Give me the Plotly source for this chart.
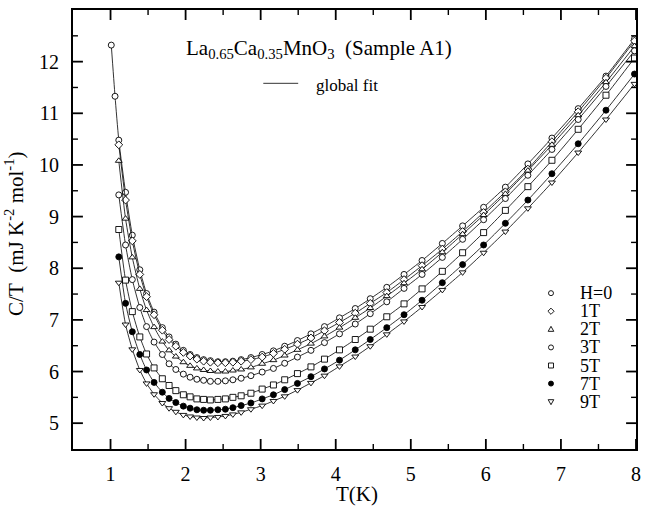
import plotly.graph_objects as go

T = [1.01, 1.06, 1.11, 1.20, 1.29, 1.39, 1.48, 1.58, 1.69, 1.78,
     1.87, 1.97, 2.06, 2.15, 2.24, 2.33, 2.43, 2.53, 2.63, 2.74,
     2.87, 3.02, 3.17, 3.32, 3.49, 3.67, 3.85, 4.05, 4.26, 4.46,
     4.68, 4.91, 5.15, 5.42, 5.69, 5.97, 6.26, 6.56, 6.88, 7.23,
     7.60, 7.98]

field_names = ["H=0", "1T", "2T", "3T", "5T", "7T", "9T"]
first_index = [0, 2, 2, 2, 2, 2, 2]

CT_H0 = [12.32, 11.33, 10.48, 9.47, 8.64, 7.97, 7.51, 7.15, 6.85, 6.67,
         6.53, 6.41, 6.33, 6.27, 6.23, 6.21, 6.19, 6.19, 6.20, 6.23,
         6.27, 6.33, 6.40, 6.49, 6.60, 6.73, 6.87, 7.04, 7.22, 7.41,
         7.63, 7.88, 8.15, 8.48, 8.82, 9.18, 9.57, 10.02, 10.52, 11.09,
         11.72, 12.44]
CT_1T = [10.39, 9.32, 8.53, 7.88, 7.45, 7.10, 6.80, 6.62, 6.49, 6.37,
         6.30, 6.24, 6.20, 6.18, 6.17, 6.17, 6.18, 6.20, 6.23, 6.28,
         6.35, 6.43, 6.53, 6.65, 6.79, 6.95, 7.13, 7.32, 7.53, 7.78,
         8.05, 8.37, 8.71, 9.08, 9.48, 9.92, 10.45, 11.03, 11.68, 12.40]
CT_2T = [10.08, 8.96, 8.21, 7.60, 7.19, 6.86, 6.58, 6.41, 6.29, 6.18,
         6.11, 6.06, 6.03, 6.01, 6.00, 6.00, 6.02, 6.04, 6.08, 6.15,
         6.22, 6.31, 6.42, 6.54, 6.68, 6.85, 7.04, 7.23, 7.46, 7.71,
         7.98, 8.31, 8.66, 9.03, 9.44, 9.89, 10.39, 10.96, 11.60, 12.30]
CT_3T = [9.42, 8.45, 7.78, 7.24, 6.87, 6.57, 6.33, 6.15, 6.04, 5.95,
         5.89, 5.85, 5.83, 5.81, 5.81, 5.82, 5.84, 5.87, 5.92, 5.99,
         6.06, 6.16, 6.28, 6.41, 6.56, 6.73, 6.92, 7.12, 7.35, 7.61,
         7.88, 8.21, 8.56, 8.94, 9.35, 9.80, 10.30, 10.88, 11.52, 12.21]
CT_5T = [8.75, 7.77, 7.16, 6.67, 6.34, 6.07, 5.86, 5.73, 5.63, 5.55,
         5.51, 5.47, 5.46, 5.45, 5.46, 5.47, 5.50, 5.53, 5.58, 5.66,
         5.74, 5.84, 5.96, 6.09, 6.24, 6.42, 6.62, 6.82, 7.06, 7.31,
         7.60, 7.94, 8.30, 8.69, 9.12, 9.58, 10.09, 10.69, 11.35, 12.07]
CT_7T = [8.22, 7.32, 6.77, 6.33, 6.03, 5.79, 5.60, 5.48, 5.40, 5.33,
         5.29, 5.26, 5.25, 5.25, 5.26, 5.27, 5.30, 5.34, 5.39, 5.47,
         5.55, 5.65, 5.77, 5.90, 6.05, 6.22, 6.42, 6.62, 6.85, 7.10,
         7.38, 7.72, 8.07, 8.45, 8.87, 9.32, 9.83, 10.41, 11.06, 11.76]
CT_9T = [7.72, 6.91, 6.43, 6.03, 5.77, 5.56, 5.39, 5.29, 5.22, 5.16,
         5.13, 5.11, 5.10, 5.11, 5.12, 5.14, 5.17, 5.21, 5.27, 5.34,
         5.43, 5.52, 5.64, 5.78, 5.92, 6.10, 6.29, 6.49, 6.72, 6.97,
         7.25, 7.58, 7.92, 8.30, 8.71, 9.16, 9.66, 10.24, 10.88, 11.57]

series = [CT_H0, CT_1T, CT_2T, CT_3T, CT_5T, CT_7T, CT_9T]

x_major = [1, 2, 3, 4, 5, 6, 7, 8]
x_minor = [1.5, 2.5, 3.5, 4.5, 5.5, 6.5, 7.5]
y_major = [5, 6, 7, 8, 9, 10, 11, 12]
y_minor = [5.5, 6.5, 7.5, 8.5, 9.5, 10.5, 11.5, 12.5]

# ---- styles / layout geometry ----
FONT = "Liberation Serif, Times New Roman, serif"
symbols = ["circle", "diamond", "triangle-up", "circle", "square", "circle", "triangle-down"]
fills = ["white", "white", "white", "white", "white", "black", "white"]
X_RANGE = [0.5, 8]
Y_RANGE = [4.5, 13]
W, H = 645, 518
M = dict(l=73, r=4, t=10, b=69)
PW = W - M["l"] - M["r"]
PH = H - M["t"] - M["b"]
MAJ_LEN, MIN_LEN = 10, 5      # px
MAJ_W, MIN_W = 1.8, 1.4


def xfrac(v):
    return (v - X_RANGE[0]) / (X_RANGE[1] - X_RANGE[0])


def yfrac(v):
    return (v - Y_RANGE[0]) / (Y_RANGE[1] - Y_RANGE[0])


fig = go.Figure()
for name, ys, st, sym, fc in zip(field_names, series, first_index, symbols, fills):
    fig.add_trace(go.Scatter(
        x=T[st:], y=ys, mode="lines+markers", name=name, showlegend=False,
        line=dict(color="black", width=0.8, shape="spline", smoothing=0.6),
        marker=dict(symbol=sym, size=6, color=fc, line=dict(color="black", width=0.9)),
    ))

shapes = []
# ---- inward ticks on all four sides (paper-anchored layout lines) ----
for vals, ln, lw in ((x_major, MAJ_LEN, MAJ_W), (x_minor, MIN_LEN, MIN_W)):
    for v in vals:
        f = xfrac(v)
        d = ln / PH
        for y0, y1 in ((0, d), (1, 1 - d)):
            shapes.append(dict(type="line", xref="paper", yref="paper",
                               x0=f, x1=f, y0=y0, y1=y1,
                               line=dict(color="black", width=lw)))
for vals, ln, lw in ((y_major, MAJ_LEN, MAJ_W), (y_minor, MIN_LEN, MIN_W)):
    for v in vals:
        f = yfrac(v)
        d = ln / PW
        for x0, x1 in ((0, d), (1, 1 - d)):
            shapes.append(dict(type="line", xref="paper", yref="paper",
                               x0=x0, x1=x1, y0=f, y1=f,
                               line=dict(color="black", width=lw)))

# ---- manual legend: key glyphs as layout shapes (pixel-sized, paper-anchored) ----
leg_x = 0.849
leg_y0 = 0.355
leg_dy = 0.0412
leg_ys = [leg_y0 - i * leg_dy for i in range(len(field_names))]
r = 2.5  # glyph half-size in px


def key_shape(sym, fc, yy):
    base = dict(xref="paper", yref="paper", xsizemode="pixel", ysizemode="pixel",
                xanchor=leg_x, yanchor=yy, line=dict(color="black", width=0.9),
                fillcolor=fc)
    if sym == "circle":
        return dict(type="circle", x0=-r, x1=r, y0=-r, y1=r, **base)
    if sym == "square":
        return dict(type="rect", x0=-r, x1=r, y0=-r, y1=r, **base)
    if sym == "diamond":
        p = f"M0,{r+0.6} L{r+0.6},0 L0,{-r-0.6} L{-r-0.6},0 Z"
    elif sym == "triangle-up":
        p = f"M{-r-0.3},{-r+0.5} L{r+0.3},{-r+0.5} L0,{r+0.5} Z"
    else:
        p = f"M{-r-0.3},{r-0.5} L{r+0.3},{r-0.5} L0,{-r-0.5} Z"
    return dict(type="path", path=p, **base)


shapes += [key_shape(s, f, yy) for s, f, yy in zip(symbols, fills, leg_ys)]
shapes.append(dict(type="line", xref="paper", yref="paper", x0=0.338, x1=0.400,
                   y0=0.833, y1=0.833, line=dict(color="black", width=0.8)))

annotations = []
for name, ly in zip(field_names, leg_ys):
    annotations.append(dict(x=0.897, y=ly, xref="paper", yref="paper", text=name,
                            showarrow=False, xanchor="left", yanchor="middle",
                            font=dict(family=FONT, size=18, color="black")))

annotations.append(dict(
    x=0.197, y=0.912, xref="paper", yref="paper", xanchor="left", yanchor="middle",
    text="La<sub>0.65</sub>Ca<sub>0.35</sub>MnO<sub>3</sub>\u00a0\u00a0(Sample A1)",
    showarrow=False, font=dict(family=FONT, size=21, color="black")))
annotations.append(dict(
    x=0.428, y=0.828, xref="paper", yref="paper", xanchor="left", yanchor="middle",
    text="global fit", showarrow=False, font=dict(family=FONT, size=17, color="black")))
annotations.append(dict(
    x=0.505, y=-0.102, xref="paper", yref="paper", xanchor="center", yanchor="middle",
    text="T(K)", showarrow=False, font=dict(family=FONT, size=21, color="black")))
annotations.append(dict(
    x=-0.103, y=0.49, xref="paper", yref="paper", xanchor="center", yanchor="middle",
    textangle=-90, text="C/T\u00a0\u00a0(mJ K<sup>-2</sup> mol<sup>-1</sup>)",
    showarrow=False, font=dict(family=FONT, size=21, color="black")))

axis_common = dict(
    showgrid=False, zeroline=False, showline=True, linecolor="black", linewidth=2,
    mirror=True, ticks="", tickmode="array",
    tickfont=dict(family=FONT, size=20, color="black"),
)

ylab = y_major + [13]
fig.update_layout(
    width=W, height=H, margin=M,
    paper_bgcolor="white", plot_bgcolor="white",
    xaxis=dict(range=X_RANGE, tickvals=x_major, ticktext=[str(v) for v in x_major],
               ticklabelstandoff=6, **axis_common),
    yaxis=dict(range=Y_RANGE, tickvals=ylab, ticktext=[str(v) for v in ylab],
               ticklabelstandoff=8, **axis_common),
    annotations=annotations, shapes=shapes,
    font=dict(family=FONT, color="black"),
)

fig.write_html("out.html", config={"displayModeBar": False},
               post_script="document.body.style.margin='0';")
